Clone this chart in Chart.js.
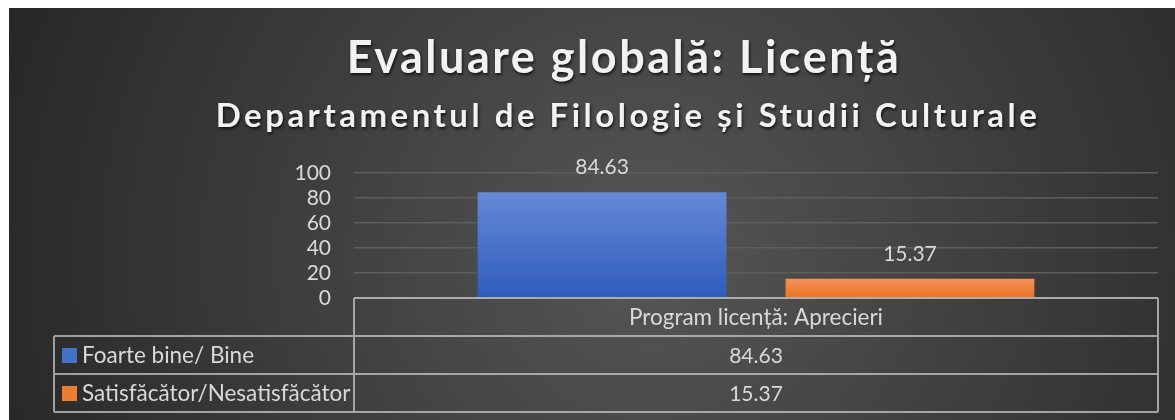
<!DOCTYPE html>
<html>
<head>
<meta charset="utf-8">
<script src="https://cdn.jsdelivr.net/npm/chart.js@4.4.0/dist/chart.umd.min.js"></script>
<style>
  html, body { margin: 0; padding: 0; background: #fff; }
  #wrap { position: absolute; left: 9px; top: 8px; width: 1166px; height: 412px; }
</style>
</head>
<body>
<div id="wrap"><canvas id="chart"></canvas></div>
<script>
const titleText = 'Evaluare globală: Licență';
const subtitleText = 'Departamentul de Filologie și Studii Culturale';
const categories = ['Program licență: Aprecieri'];
const seriesNames = ['Foarte bine/ Bine', 'Satisfăcător/Nesatisfăcător'];
const foarteBine = [84.63];
const satisfacator = [15.37];
const yTicks = [0, 20, 40, 60, 80, 100];

const FONT = 'Lato, "Noto Sans", sans-serif';
const TEXT = '#d9d9d9';

// vertical gradient per bar, light on top
function barGradient(top, bottom) {
    return (c) => {
        const chart = c.chart;
        const y = chart.scales && chart.scales.y;
        if (!chart.chartArea || !y || c.raw == null) return bottom;
        const g = chart.ctx.createLinearGradient(0, y.getPixelForValue(c.raw), 0, y.getPixelForValue(0));
        g.addColorStop(0, top);
        g.addColorStop(1, bottom);
        return g;
    };
}

const bgPlugin = {
    id: 'bg',
    beforeDraw(chart) {
        const { ctx, width, height } = chart;
        const g = ctx.createRadialGradient(width * 0.55, height * 0.6, 0, width * 0.55, height * 0.6, width * 0.6);
        g.addColorStop(0, '#565656');
        g.addColorStop(1, '#262626');
        ctx.save();
        ctx.fillStyle = g;
        ctx.fillRect(0, 0, width, height);
        ctx.restore();
    }
};

const titlePlugin = {
    id: 'titleBlock',
    afterDraw(chart) {
        const ctx = chart.ctx;
        const cx = chart.width / 2 + 32;
        ctx.save();
        ctx.fillStyle = '#f2f2f2';
        ctx.textAlign = 'center';
        ctx.textBaseline = 'alphabetic';
        ctx.shadowColor = 'rgba(0,0,0,0.7)';
        ctx.shadowBlur = 3;
        ctx.shadowOffsetX = 1;
        ctx.shadowOffsetY = 2;
        ctx.letterSpacing = '2.5px';
        ctx.font = 'bold 45px ' + FONT;
        ctx.fillText(titleText, cx, 65);
        ctx.letterSpacing = '3.5px';
        ctx.font = 'bold 33px ' + FONT;
        ctx.fillText(subtitleText, cx + 4, 119);
        ctx.restore();
    }
};

const labelPlugin = {
    id: 'barLabels',
    afterDatasetsDraw(chart) {
        const ctx = chart.ctx;
        ctx.save();
        ctx.font = '21px ' + FONT;
        ctx.fillStyle = TEXT;
        ctx.textAlign = 'center';
        ctx.textBaseline = 'alphabetic';
        chart.data.datasets.forEach((ds, i) => {
            chart.getDatasetMeta(i).data.forEach((bar, j) => {
                ctx.fillText(ds.data[j].toFixed(2), bar.x, bar.y - 18);
            });
        });
        ctx.restore();
    }
};

// data table under the plot, aligned to the x scale
const tablePlugin = {
    id: 'dataTable',
    afterDraw(chart) {
        const ctx = chart.ctx;
        const area = chart.chartArea;
        const xs = chart.scales.x;
        const rowH = 38;
        const tableLeft = 45;
        const top = area.bottom;
        const rows = chart.data.datasets.length;
        const bottom = top + rowH * (rows + 1);

        ctx.save();
        ctx.strokeStyle = 'rgba(200,200,200,0.75)';
        ctx.lineWidth = 2;
        ctx.beginPath();
        ctx.moveTo(area.left, top); ctx.lineTo(area.right, top);
        ctx.moveTo(area.left, top); ctx.lineTo(area.left, bottom);
        ctx.moveTo(area.right, top); ctx.lineTo(area.right, bottom);
        for (let r = 1; r <= rows + 1; r++) {
            ctx.moveTo(tableLeft, top + rowH * r); ctx.lineTo(area.right, top + rowH * r);
        }
        ctx.moveTo(tableLeft, top + rowH); ctx.lineTo(tableLeft, bottom);
        ctx.stroke();

        ctx.fillStyle = TEXT;
        ctx.textBaseline = 'middle';
        ctx.textAlign = 'center';
        ctx.font = '22.5px ' + FONT;
        chart.data.labels.forEach((lab, j) => {
            ctx.fillText(lab, xs.getPixelForValue(j), top + rowH / 2 + 1);
        });
        chart.data.datasets.forEach((ds, i) => {
            const yMid = top + rowH * (i + 1) + rowH / 2 + 1;
            ctx.font = '21px ' + FONT;
            ds.data.forEach((v, j) => {
                ctx.textAlign = 'center';
                ctx.fillText(v.toFixed(2), xs.getPixelForValue(j), yMid);
            });
            ctx.fillStyle = ds.legendColor;
            ctx.fillRect(tableLeft + 8, yMid - 8, 15, 15);
            ctx.fillStyle = TEXT;
            ctx.textAlign = 'left';
            ctx.font = '22.5px ' + FONT;
            ctx.fillText(ds.label, tableLeft + 28, yMid);
        });
        ctx.restore();
    }
};

new Chart(document.getElementById('chart'), {
    type: 'bar',
    data: {
        labels: categories,
        datasets: [
            {
                label: seriesNames[0],
                data: foarteBine,
                backgroundColor: barGradient('#6589d5', '#2e5cbc'),
                legendColor: '#4472c4',
                categoryPercentage: 0.766,
                barPercentage: 0.808
            },
            {
                label: seriesNames[1],
                data: satisfacator,
                backgroundColor: barGradient('#f4935a', '#ea731f'),
                legendColor: '#ed7d31',
                categoryPercentage: 0.766,
                barPercentage: 0.808
            }
        ]
    },
    options: {
        responsive: true,
        maintainAspectRatio: false,
        animation: false,
        layout: { padding: { top: 165, bottom: 122, right: 17, left: 0 } },
        scales: {
            x: { display: false },
            y: {
                min: 0,
                max: 100,
                afterBuildTicks: (s) => { s.ticks = yTicks.map(v => ({ value: v })); },
                afterFit: (s) => { s.width = 345; },
                ticks: { color: TEXT, font: { size: 21, family: FONT }, padding: 23, autoSkip: false },
                grid: { color: '#5e5e5e', lineWidth: 1.5, drawTicks: false },
                border: { display: false }
            }
        },
        plugins: {
            legend: { display: false },
            tooltip: { enabled: false }
        }
    },
    plugins: [bgPlugin, labelPlugin, tablePlugin, titlePlugin]
});
</script>
</body>
</html>
